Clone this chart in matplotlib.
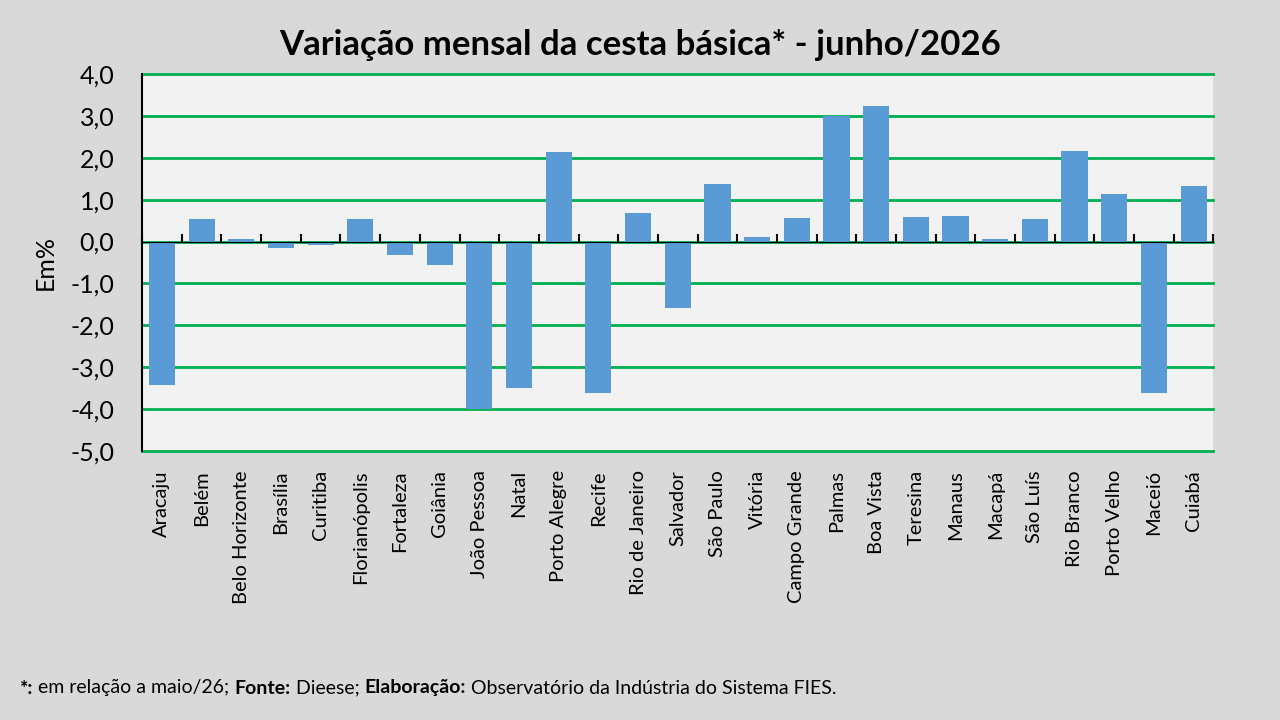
import matplotlib
matplotlib.use("Agg")
import matplotlib.pyplot as plt
import numpy as np

plt.rcParams['font.family'] = ['Lato', 'DejaVu Sans']

cidades = ["Aracaju", "Belém", "Belo Horizonte", "Brasília", "Curitiba", "Florianópolis",
           "Fortaleza", "Goiânia", "João Pessoa", "Natal", "Porto Alegre", "Recife",
           "Rio de Janeiro", "Salvador", "São Paulo", "Vitória", "Campo Grande", "Palmas",
           "Boa Vista", "Teresina", "Manaus", "Macapá", "São Luís", "Rio Branco",
           "Porto Velho", "Maceió", "Cuiabá"]
variacao = [-3.42, 0.53, 0.06, -0.16, -0.08, 0.53, -0.33, -0.57, -4.00, -3.49, 2.14, -3.63,
            0.68, -1.59, 1.37, 0.10, 0.57, 2.99, 3.25, 0.59, 0.62, 0.06, 0.53, 2.17,
            1.14, -3.63, 1.32]
yticks = [4, 3, 2, 1, 0, -1, -2, -3, -4, -5]

fig = plt.figure(figsize=(12.8, 7.2), dpi=100, facecolor='#d9d9d9')
ax = fig.add_axes([0.111, 0.374, 0.837, 0.523])
ax.set_facecolor('#f2f2f2')

x = np.arange(len(cidades))
ax.bar(x, variacao, width=0.66, color='#5b9bd5', zorder=3)

ax.set_xlim(-0.5, len(cidades) - 0.5)
ax.set_ylim(-5, 4)
ax.set_yticks(yticks)
ax.set_yticklabels([f"{v:.1f}".replace('.', ',') for v in yticks], fontsize=18)
ax.tick_params(axis='y', length=0, pad=20)
ax.yaxis.grid(True, color='#00b050', linewidth=2, zorder=1)
for gl in ax.get_ygridlines():
    gl.set_clip_on(False)

ax.set_xticks(x)
ax.set_xticklabels(cidades, rotation=90, fontsize=14.5)
ax.tick_params(axis='x', length=0, pad=14)

for s in ['top', 'right', 'bottom']:
    ax.spines[s].set_visible(False)
ax.spines['left'].set_color('black')
ax.spines['left'].set_linewidth(1.5)
ax.spines['left'].set_zorder(5)

sec = ax.secondary_xaxis(5 / 9)
sec.set_xticks(np.arange(len(cidades) + 1) - 0.5)
sec.set_xticklabels([])
sec.tick_params(axis='x', direction='out', length=6, width=1.5, color='black')
sec.spines['bottom'].set_linewidth(1.5)
sec.spines['bottom'].set_color('black')
sec.set_zorder(6)

ax.set_ylabel("Em%", fontsize=18, labelpad=10)

fig.text(0.5, 0.937, "Variação mensal da cesta básica* - junho/2026", ha='center', va='center',
         fontsize=25, fontweight='bold')

# footnote with mixed bold
parts = [("*:", 'bold'), (" em relação a maio/26; ", 'normal'), ("Fonte:", 'bold'),
         (" Dieese; ", 'normal'), ("Elaboração:", 'bold'),
         (" Observatório da Indústria do Sistema FIES.", 'normal')]
fig.canvas.draw()
r = fig.canvas.get_renderer()
xp = 20
for txt, w in parts:
    t = fig.text(xp / 1280, 1 - 688 / 720, txt, fontsize=14, fontweight=w, va='center', ha='left')
    bb = t.get_window_extent(renderer=r)
    xp += bb.width

fig.savefig("out.png", dpi=100, facecolor=fig.get_facecolor())
